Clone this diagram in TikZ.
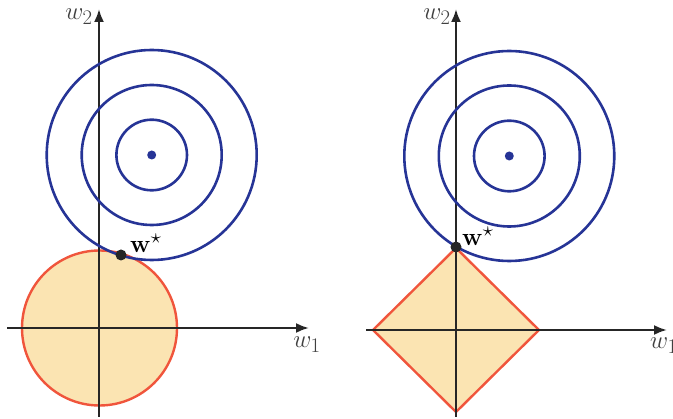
\documentclass[tikz,border=0pt]{standalone}
\usetikzlibrary{arrows.meta}
\definecolor{cblue}{RGB}{38,52,150}
\definecolor{cred}{RGB}{240,85,60}
\definecolor{cfill}{RGB}{251,228,178}
\tikzset{
  axis/.style={line width=2.2pt, black!85, -{Latex[length=13pt,width=10pt]}},
  contour/.style={line width=2.6pt, cblue},
  region/.style={line width=2.4pt, draw=cred, fill=cfill},
  lbl/.style={font=\Huge, text=black!75, inner sep=0pt},
  wlbl/.style={font=\Huge, inner sep=0pt}
}
\begin{document}
\begin{tikzpicture}[x=1pt,y=-1pt]
\useasboundingbox (0,0) rectangle (673,419);
% ---------- left panel ----------
\filldraw[region] (99.5,328) circle (77.5);
\draw[axis] (99,417) -- (99,9);
\draw[axis] (7,328) -- (309,328);
\foreach \r in {105,70,35.3} \draw[contour] (151.7,155) circle (\r);
\fill[cblue] (151.7,155) circle (4.5);
\fill[black!85] (121,255) circle (5.5);
\node[wlbl, anchor=south west] (wsL) at (130,253) {$\mathbf{w}^\star$};
\node[lbl] (w2L) at (79,17) {$w_2$};
\node[lbl] (w1L) at (307,345) {$w_1$};
% ---------- right panel ----------
\filldraw[region] (456,248) -- (539,330) -- (456,412) -- (373,330) -- cycle;
\draw[axis] (456,417) -- (456,9);
\draw[axis] (366,330) -- (667,330);
\foreach \r in {105,70.5,35.3} \draw[contour] (509.3,156) circle (\r);
\fill[cblue] (509.3,156) circle (4.5);
\fill[black!85] (456,247) circle (5.5);
\node[wlbl, anchor=south west] (wsR) at (462,246) {$\mathbf{w}^\star$};
\node[lbl] (w2R) at (437,17) {$w_2$};
\node[lbl, anchor=west] (w1R) at (650,346) {$w_1$};
\end{tikzpicture}
\end{document}
